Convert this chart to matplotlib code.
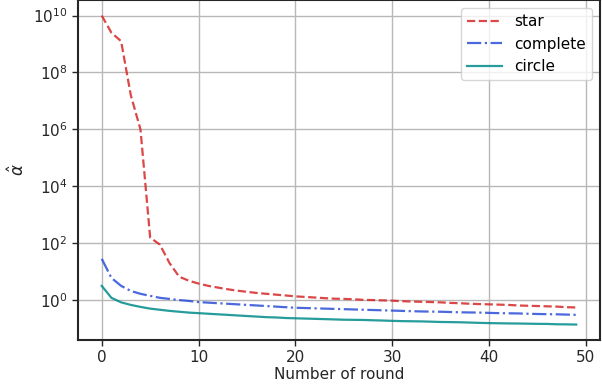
import matplotlib
matplotlib.use("Agg")
import matplotlib.pyplot as plt
from matplotlib.ticker import FixedLocator, NullLocator

rounds = list(range(50))

star = [1e10, 2.5e9, 1.26e9, 1.6e7, 1.0e6, 158, 89, 20, 6.6, 4.8,
        3.8, 3.16, 2.75, 2.4, 2.14, 1.95, 1.78, 1.66, 1.55, 1.45,
        1.35, 1.29, 1.23, 1.17, 1.12, 1.10, 1.07, 1.02, 1.0, 0.977,
        0.955, 0.912, 0.891, 0.871, 0.851, 0.832, 0.794, 0.776, 0.741, 0.724,
        0.708, 0.692, 0.676, 0.646, 0.631, 0.617, 0.603, 0.589, 0.562, 0.55]

complete = [28.2, 6.0, 3.16, 2.09, 1.66, 1.41, 1.20, 1.10, 1.0, 0.933,
            0.851, 0.813, 0.776, 0.741, 0.708, 0.676, 0.646, 0.617, 0.589, 0.562,
            0.537, 0.525, 0.513, 0.501, 0.490, 0.479, 0.468, 0.457, 0.447, 0.437,
            0.427, 0.417, 0.407, 0.398, 0.394, 0.389, 0.380, 0.372, 0.367, 0.363,
            0.355, 0.347, 0.343, 0.339, 0.331, 0.324, 0.320, 0.316, 0.309, 0.302]

circle = [3.16, 1.20, 0.832, 0.676, 0.575, 0.501, 0.457, 0.417, 0.389, 0.363,
          0.347, 0.331, 0.316, 0.302, 0.288, 0.275, 0.263, 0.251, 0.245, 0.234,
          0.229, 0.224, 0.219, 0.214, 0.209, 0.204, 0.202, 0.200, 0.195, 0.191,
          0.186, 0.182, 0.180, 0.178, 0.174, 0.170, 0.168, 0.166, 0.162, 0.158,
          0.155, 0.153, 0.151, 0.150, 0.148, 0.146, 0.145, 0.141, 0.140, 0.138]

ytick_vals = [1e0, 1e2, 1e4, 1e6, 1e8, 1e10]

fig = plt.figure(figsize=(6.02, 3.84), dpi=100)
ax = fig.add_axes([0.1296, 0.1146, 0.867, 0.885])

ax.plot(rounds, star, '--', color='#d62728', lw=1.6, alpha=0.85, label='star')
ax.plot(rounds, complete, '-.', color='#2a4fd8', lw=1.6, alpha=0.85, label='complete')
ax.plot(rounds, circle, '-', color='#008b8b', lw=1.6, alpha=0.85, label='circle')

ax.set_yscale('log')
ax.yaxis.set_major_locator(FixedLocator(ytick_vals))
ax.yaxis.set_minor_locator(NullLocator())
ax.set_xticks([0, 10, 20, 30, 40, 50])

ax.grid(True, color='#b8b8b8', lw=1.0)
ax.set_axisbelow(True)
for s in ax.spines.values():
    s.set_color('#262626')
    s.set_linewidth(1.5)
ax.tick_params(labelsize=11, colors='#262626', length=4, width=1.0)

ax.set_xlabel('Number of round', fontsize=11, color='#262626', labelpad=1)
ax.set_ylabel(r'$\hat{\alpha}$', fontsize=12, color='#262626', labelpad=4)

ax.legend(loc='upper right', fontsize=11, framealpha=0.8, edgecolor='#cccccc',
          handlelength=2.3)

fig.savefig('out.png', dpi=100)
